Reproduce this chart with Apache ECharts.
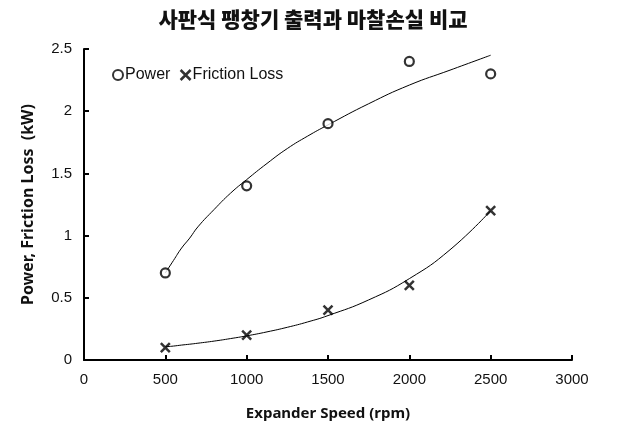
<!DOCTYPE html>
<html><head><meta charset="utf-8">
<script src="https://cdn.jsdelivr.net/npm/echarts@6/dist/echarts.min.js"></script>
<style>html,body{margin:0;padding:0;background:#fff}#c{width:619px;height:444px}</style>
</head><body><div id="c"></div>
<script>
const speeds = [500, 1000, 1500, 2000, 2500];
const power = [0.7, 1.4, 1.9, 2.4, 2.3];
const friction = [0.1, 0.2, 0.4, 0.6, 1.2];
// trendline curves
const trendX = [500, 550, 600, 650, 700, 800, 900, 1000, 1125, 1250, 1375, 1500, 1750, 2000, 2250, 2500];
const powerTrend = [0.70, 0.80, 0.90, 0.98, 1.07, 1.21, 1.34, 1.45, 1.58, 1.70, 1.80, 1.89, 2.06, 2.21, 2.33, 2.45];
const frictionTrend = [0.106, 0.112, 0.120, 0.127, 0.135, 0.152, 0.172, 0.194, 0.226, 0.263, 0.306, 0.357, 0.483, 0.654, 0.886, 1.20];
const xTicks = [0, 500, 1000, 1500, 2000, 2500, 3000];
const yTicks = [0, 0.5, 1, 1.5, 2, 2.5];

const X_PATH = 'path://M0,0L10,10M10,0L0,10';
const chart = echarts.init(document.getElementById('c'), null, {renderer: 'canvas'});
const lbl = {color: '#111', fontFamily: 'Liberation Sans, Arial', fontSize: 15, formatter: v => String(v)};
chart.setOption({
  animation: false,
  title: {
    text: '사판식 팽창기 출력과 마찰손실 비교',
    left: 308, top: 4, textAlign: 'center',
    textStyle: {fontFamily: 'Noto Sans CJK KR', fontWeight: 900, fontSize: 21, color: '#111'}
  },
  legend: {
    left: 107, top: 62, itemGap: 9, itemWidth: 10, itemHeight: 10,
    textStyle: {fontFamily: 'Liberation Sans, Arial', fontSize: 16, color: '#111', padding: [0,0,0,-3]},
    data: [
      {name: 'Power', icon: 'circle', itemStyle: {color: '#fff', borderColor: '#000', borderWidth: 2}},
      {name: 'Friction Loss', icon: X_PATH, itemStyle: {color: 'transparent', borderColor: '#000', borderWidth: 2.5}}
    ]
  },
  grid: {left: 84, right: 47, top: 49, bottom: 84, containLabel: false},
  xAxis: {
    type: 'value', min: xTicks[0], max: xTicks[xTicks.length-1], interval: 500,
    name: 'Expander Speed (rpm)', nameLocation: 'middle', nameGap: 46,
    nameTextStyle: {fontFamily: 'Noto Sans', fontWeight: 'bold', fontSize: 15, color: '#111'},
    axisLine: {show: true, lineStyle: {color: '#000', width: 2}},
    axisTick: {show: true, inside: true, length: 5, lineStyle: {color: '#000', width: 2}},
    axisLabel: Object.assign({margin: 12}, lbl),
    splitLine: {show: false}
  },
  yAxis: {
    type: 'value', min: yTicks[0], max: yTicks[yTicks.length-1], interval: 0.5,
    name: 'Power, Friction Loss  (kW)', nameLocation: 'middle', nameGap: 48, nameRotate: 90,
    nameTextStyle: {fontFamily: 'Noto Sans', fontWeight: 'bold', fontSize: 16, color: '#111'},
    axisLine: {show: true, lineStyle: {color: '#000', width: 2}},
    axisTick: {show: true, inside: true, length: 5, lineStyle: {color: '#000', width: 2}},
    axisLabel: Object.assign({margin: 12}, lbl),
    splitLine: {show: false}
  },
  series: [
    {name: 'powerTrend', type: 'line', smooth: true, showSymbol: false, silent: true,
     data: trendX.map((x,i)=>[x, powerTrend[i]]), lineStyle: {color: '#000', width: 1}, z: 1},
    {name: 'frictionTrend', type: 'line', smooth: true, showSymbol: false, silent: true,
     data: trendX.map((x,i)=>[x, frictionTrend[i]]), lineStyle: {color: '#000', width: 1}, z: 1},
    {name: 'Power', type: 'scatter', symbol: 'circle', symbolSize: 9,
     itemStyle: {color: '#fff', borderColor: '#000', borderWidth: 2.2},
     data: speeds.map((x,i)=>[x, power[i]]), z: 3},
    {name: 'Friction Loss', type: 'scatter', symbol: X_PATH, symbolSize: 9,
     itemStyle: {color: 'transparent', borderColor: '#000', borderWidth: 2.5},
     data: speeds.map((x,i)=>[x, friction[i]]), z: 3}
  ]
});
</script></body></html>
